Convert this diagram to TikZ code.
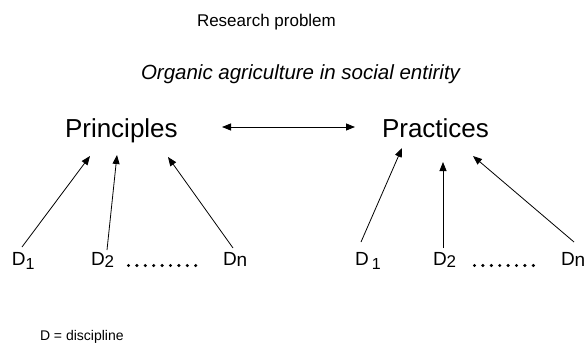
\documentclass[tikz,border=0pt]{standalone}
\usepackage{fontspec}
\setmainfont{Liberation Sans}
\usetikzlibrary{arrows.meta}
\newcommand{\fs}[1]{\fontsize{#1}{#1}\selectfont}
\newcommand{\sub}[1]{\raisebox{-4pt}{\fs{16}#1}}
\begin{document}
\begin{tikzpicture}[x=1pt,y=-1pt,
  txt/.style={inner sep=0pt,outer sep=0pt,anchor=base west},
  conn/.style={line width=0.8pt,-{Triangle[length=9pt,width=7pt]}},
  dconn/.style={line width=0.8pt,{Triangle[length=9pt,width=7pt]}-{Triangle[length=9pt,width=7pt]}},
  dot/.style={fill=black,draw=none}]
\useasboundingbox (0,0) rectangle (586,345);

% headings
\node[txt,font=\fs{17}] (rp) at (197,27) {Research problem};
\node[txt,font=\fs{20.5}\itshape] (oa) at (141,79) {Organic agriculture in social entirity};

% the two main concepts
\node[txt,font=\fs{26}] (prin) at (65,137) {Principles};
\node[txt,font=\fs{26}] (prac) at (382,137) {Practices};

% disciplines
\node[txt,font=\fs{19}] (la) at (12,265) {D\sub{1}};
\node[txt,font=\fs{19}] (lb) at (91,265) {D\raisebox{-2pt}{\fs{17}2}};
\node[txt,font=\fs{19}] (lc) at (223,265) {D\raisebox{-1.5pt}{n}};
\node[txt,font=\fs{19}] (ra) at (355,265) {D\,\sub{1}};
\node[txt,font=\fs{19}] (rb) at (433,265) {D\raisebox{-2pt}{\fs{17}2}};
\node[txt,font=\fs{19}] (rc) at (561,265) {D\raisebox{-1.5pt}{n}};

\node[txt,font=\fs{14}] (leg) at (40,340) {D = discipline};

% connector end points
\coordinate (pl) at (222,127);
\coordinate (pr) at (355,127);
\coordinate (sa) at (22,247);  \coordinate (ta) at (90,156);
\coordinate (sb) at (107,250); \coordinate (tb) at (117,155);
\coordinate (sc) at (233,248); \coordinate (tc) at (168,157);
\coordinate (sd) at (361,242); \coordinate (td) at (402,148);
\coordinate (se) at (443,248); \coordinate (te) at (443,162);
\coordinate (sf) at (574,242); \coordinate (tf) at (473,156);

\draw[dconn] (pl) -- (pr);
\draw[conn] (sa) -- (ta);
\draw[conn] (sb) -- (tb);
\draw[conn] (sc) -- (tc);
\draw[conn] (sd) -- (td);
\draw[conn] (se) -- (te);
\draw[conn] (sf) -- (tf);

% ellipses between the discipline labels
\foreach \i in {0,...,8} \fill[dot] (128.5+\i*8.4,265.5) circle (1.7);
\foreach \i in {0,...,7} \fill[dot] (474.5+\i*8.4,265.5) circle (1.7);
\end{tikzpicture}
\end{document}
